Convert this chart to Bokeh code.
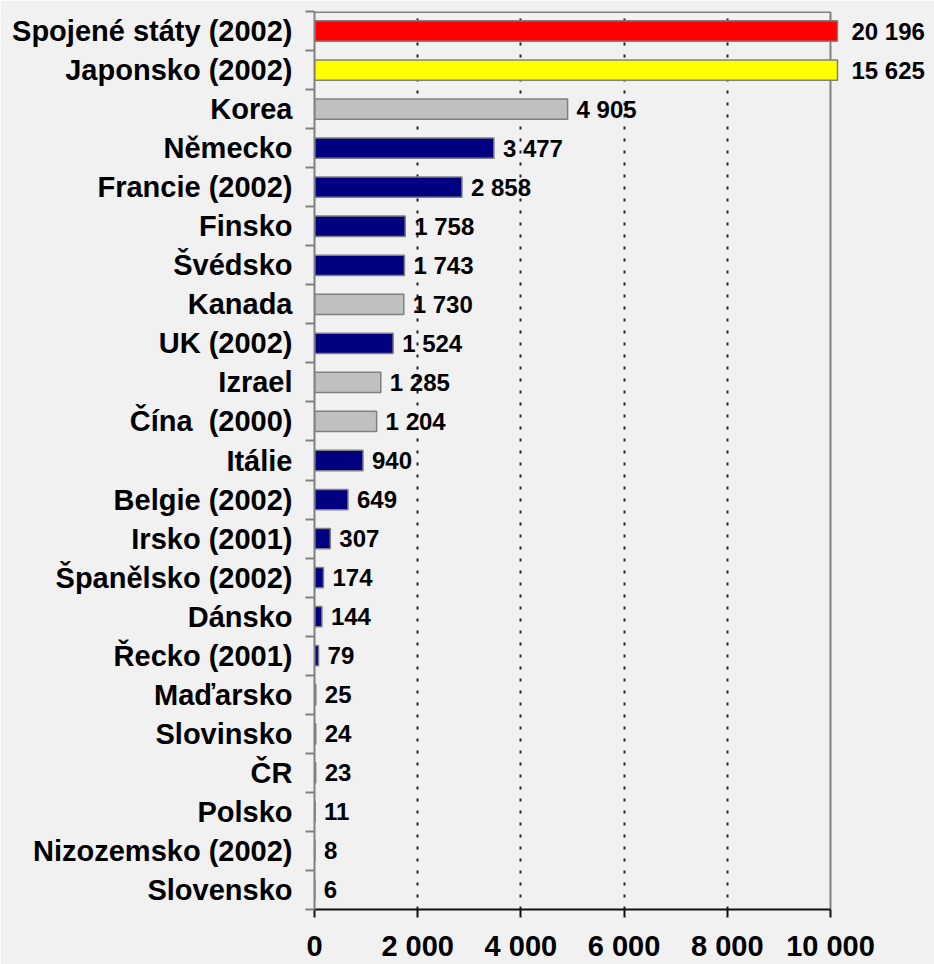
from bokeh.plotting import figure
from bokeh.models import FixedTicker, ColumnDataSource, LabelSet, Range1d
from bokeh.core.properties import value
from bokeh.embed import file_html
from bokeh.resources import INLINE

countries = ["Spojené státy (2002)", "Japonsko (2002)", "Korea", "Německo", "Francie (2002)",
             "Finsko", "Švédsko", "Kanada", "UK (2002)", "Izrael", "Čína \u00a0(2000)", "Itálie",
             "Belgie (2002)", "Irsko (2001)", "Španělsko (2002)", "Dánsko", "Řecko (2001)",
             "Maďarsko", "Slovinsko", "ČR", "Polsko", "Nizozemsko (2002)", "Slovensko"]
values = [20196, 15625, 4905, 3477, 2858, 1758, 1743, 1730, 1524, 1285, 1204, 940,
          649, 307, 174, 144, 79, 25, 24, 23, 11, 8, 6]
groups = ["usa", "japan", "other", "eu", "eu", "eu", "eu", "other", "eu", "other", "other", "eu",
          "eu", "eu", "eu", "eu", "eu", "eu", "eu", "eu", "eu", "eu", "eu"]
x_ticks = [0, 2000, 4000, 6000, 8000, 10000]

group_colors = {"usa": "#FF0000", "japan": "#FFFF00", "other": "#C0C0C0", "eu": "#000080"}

def fmt(v):
    return f"{v:,}".replace(",", " ")

n = len(countries)
axis_max = x_ticks[-1]
bar_cap = 10136          # bars longer than the axis are cut just past its end
x_end = 12016            # frame extends to the right edge (room for labels)
ys = [n - 1 - i for i in range(n)]

src = ColumnDataSource(dict(
    y=ys, right=[min(v, bar_cap) for v in values],
    color=[group_colors[g] for g in groups],
))

inside = [i for i in range(n) if values[i] <= axis_max]
outside = [i for i in range(n) if values[i] > axis_max]
lab_in = ColumnDataSource(dict(x=[values[i] for i in inside], y=[ys[i] for i in inside],
                               t=[fmt(values[i]) for i in inside]))
lab_out = ColumnDataSource(dict(x=[axis_max for i in outside], y=[ys[i] for i in outside],
                                t=[fmt(values[i]) for i in outside]))

bg = "#F1F1F1"
p = figure(width=934, height=964, x_range=Range1d(0, x_end), y_range=Range1d(-0.5, n - 0.5),
           output_backend="svg", toolbar_location=None,
           min_border_left=314, min_border_right=0, min_border_top=11, min_border_bottom=52)
p.background_fill_color = bg
p.border_fill_color = bg
p.outline_line_color = None

p.ygrid.visible = False
p.xgrid.ticker = FixedTicker(ticks=x_ticks[1:-1])
p.xgrid.grid_line_color = "#202020"
p.xgrid.grid_line_dash = "3 9"
p.xgrid.grid_line_width = 2

# plot area border (top & right)
p.segment(x0=[axis_max], y0=[-0.5], x1=[axis_max], y1=[n - 0.5], line_color="#808080", line_width=2)
p.segment(x0=[0], y0=[n - 0.5], x1=[axis_max], y1=[n - 0.5], line_color="#808080", line_width=3)

p.hbar(y="y", left=0, right="right", height=0.52, fill_color="color",
       line_color="#808080", line_width=1.5, source=src)

lab_font = "Liberation Sans"
p.add_layout(LabelSet(x="x", y="y", text="t", source=lab_in, x_offset=9, text_baseline="middle",
                      text_font=value(lab_font), text_font_style="bold", text_font_size="24px",
                      text_color="black"))
p.add_layout(LabelSet(x="x", y="y", text="t", source=lab_out, x_offset=21, text_baseline="middle",
                      text_font=value(lab_font), text_font_style="bold", text_font_size="24px",
                      text_color="black"))

# y axis: labels at centres, ticks at boundaries
ya = p.yaxis[0]
ya.ticker = FixedTicker(ticks=ys, minor_ticks=[k - 0.5 for k in range(n + 1)])
ya.major_label_overrides = {ys[i]: countries[i] for i in range(n)}
ya.major_tick_line_color = None
ya.major_tick_in = 0
ya.major_tick_out = 0
ya.minor_tick_in = 0
ya.minor_tick_out = 9
ya.minor_tick_line_color = "#808080"
ya.minor_tick_line_width = 2
ya.axis_line_color = "#808080"
ya.axis_line_width = 2
ya.major_label_text_font = lab_font
ya.major_label_text_font_style = "bold"
ya.major_label_text_font_size = "29px"
ya.major_label_text_color = "black"
ya.major_label_standoff = 13

xa = p.xaxis[0]
xa.ticker = FixedTicker(ticks=x_ticks, minor_ticks=[])
xa.bounds = (0, axis_max)
xa.major_label_overrides = {t: fmt(t) for t in x_ticks}
xa.major_tick_in = 0
xa.major_tick_out = 8
xa.major_tick_line_color = "#111111"
xa.major_tick_line_width = 2
xa.axis_line_color = "#111111"
xa.axis_line_width = 2
xa.major_label_text_font = lab_font
xa.major_label_text_font_style = "bold"
xa.major_label_text_font_size = "29px"
xa.major_label_text_color = "black"
xa.major_label_standoff = 12

open("out.html", "w").write(file_html(p, INLINE))
